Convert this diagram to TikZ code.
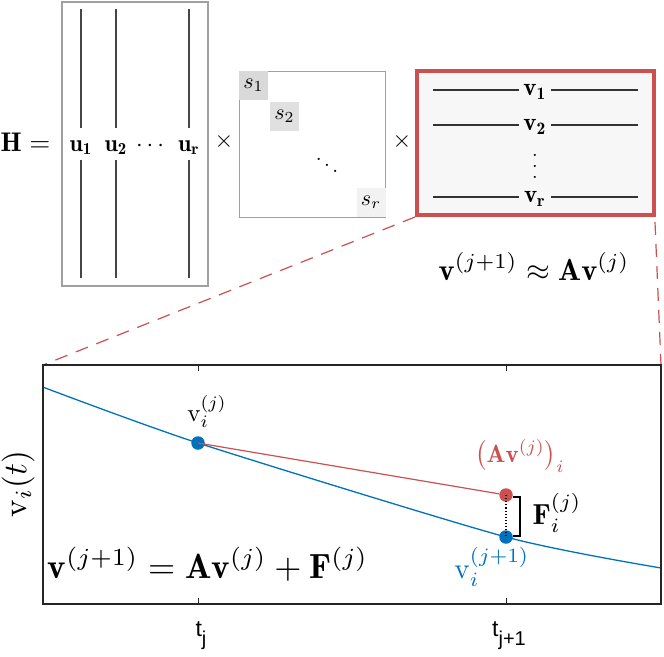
\documentclass[tikz,border=0pt]{standalone}
\usepackage{amsmath}
\usepackage{fontspec}
\newfontfamily\hv{Liberation Sans}
\definecolor{myred}{RGB}{205,80,80}
\definecolor{myblue}{RGB}{0,114,189}
\definecolor{boxgray}{RGB}{160,160,160}
\definecolor{linegray}{RGB}{70,70,70}
\newcommand{\fsz}[1]{\fontsize{#1}{#1}\selectfont}
\newcommand{\mysz}[2]{\scalebox{#1}{#2}}
\newcommand{\myvdots}{\vbox{\baselineskip5.5pt\lineskiplimit0pt\hbox{.}\hbox{.}\hbox{.}}}
\newcommand{\tsub}[1]{{\hv\fsz{23}t\raisebox{-0.4em}{\fsz{20}#1}}}
\begin{document}
\begin{tikzpicture}[x=1pt,y=-1pt,
  colline/.style={linegray,line width=1.4},
  rowline/.style={black!80,line width=1.1},
  lbl/.style={inner sep=0pt},
  sbox/.style={minimum size=29,inner sep=0pt},
  dot/.style={circle,minimum size=13.5,inner sep=0pt},
  cross/.style={inner sep=0pt}]
\useasboundingbox (0,0) rectangle (664,656);
% ---- left matrix
\node[lbl,anchor=base] (H) at (25.5,151) {\mysz{2.7}{$\mathbf{H} =$}};
\node[draw=boxgray,line width=2,minimum width=146,minimum height=284,inner sep=0] (U) at (135,144) {};
\node[lbl,anchor=base] (u1) at (81,151) {\mysz{2.4}{$\mathbf{u_1}$}};
\node[lbl,anchor=base] (u2) at (116,151) {\mysz{2.4}{$\mathbf{u_2}$}};
\node[lbl,anchor=base] (ud) at (152,151) {\mysz{2.4}{$\cdots$}};
\node[lbl,anchor=base] (ur) at (189,151) {\mysz{2.4}{$\mathbf{u_r}$}};
\foreach \x in {81,116,189}{
  \draw[colline] (\x,9) -- (\x,128);
  \draw[colline] (\x,160) -- (\x,278);
}
\node[cross] (x1) at (224,141) {\mysz{2.4}{$\times$}};
% ---- middle matrix
\node[draw=boxgray,line width=1,minimum size=146,inner sep=0] (S) at (312.5,144) {};
\node[sbox,fill=black!15] (s1) at (253.5,85.5) {\mysz{2.2}{$s_1$}};
\node[sbox,fill=black!12] (s2) at (284.5,116) {\mysz{2.2}{$s_2$}};
\node[lbl] (sd) at (327,159) {\mysz{2.1}{$\ddots$}};
\node[sbox,fill=black!5] (sr) at (371,202) {\mysz{2.2}{$s_r$}};
\node[cross] (x2) at (402,141) {\mysz{2.4}{$\times$}};
% ---- right matrix
\node[draw=myred,line width=4,fill=black!3,minimum width=237,minimum height=144,inner sep=0] (V) at (535.5,143) {};
\node[lbl,anchor=base,minimum width=32] (v1) at (535,95.5) {\mysz{2.5}{$\mathbf{v_1}$}};
\node[lbl,anchor=base,minimum width=32] (v2) at (535,130.5) {\mysz{2.5}{$\mathbf{v_2}$}};
\node[lbl] (vd) at (535,166) {\mysz{2.0}{\myvdots}};
\node[lbl,anchor=base,minimum width=32] (vr) at (535,202.5) {\mysz{2.5}{$\mathbf{v_r}$}};
\draw[rowline] (433,90) -- (v1.west|-0,90);
\draw[rowline] (v1.east|-0,90) -- (638,90);
\draw[rowline] (433,125) -- (v2.west|-0,125);
\draw[rowline] (v2.east|-0,125) -- (638,125);
\draw[rowline] (433,197) -- (vr.west|-0,197);
\draw[rowline] (vr.east|-0,197) -- (638,197);
\node[lbl,anchor=base] (eqtop) at (534,280) {\mysz{3.05}{$\mathbf{v}^{(j+1)} \approx \mathbf{A}\mathbf{v}^{(j)}$}};
% ---- plot
\coordinate (PTL) at (43,365);
\coordinate (PTR) at (661,365);
\coordinate (PBR) at (661,604);
\draw[myred,line width=1.2,dash pattern=on 13pt off 9pt] (V.south west) -- (PTL);
\draw[myred,line width=1.2,dash pattern=on 13pt off 9pt] (655,222) -- (PTR);
\begin{scope}
\clip (PTL) rectangle (PBR);
\draw[myblue,line width=1.3] plot[smooth,tension=0.4] coordinates {(40,386) (198,443) (506,537) (664,568.5)};
\end{scope}
\draw[black!85,line width=1.4] (PTL) rectangle (PBR);
\foreach \x in {198,506}{
  \draw[black!85,line width=1] (\x,365) -- (\x,371);
  \draw[black!85,line width=1] (\x,604) -- (\x,598);
}
\node[dot,fill=myblue] (d1) at (198,443) {};
\node[dot,fill=myred] (d2) at (506,495) {};
\node[dot,fill=myblue] (d3) at (506,537) {};
\draw[myred,line width=1.2] (d1.center) -- (d2);
\draw[black,line width=1.1,dotted] (d2.center) -- (d3.center);
\draw[black,line width=1.3] (513,497) -- (520,497) -- (520,536) -- (513,536);
\node[lbl,anchor=base] (lv) at (207,421) {\mysz{2.5}{$\mathrm{v}_i^{(j)}$}};
\node[lbl,anchor=base,text=myred] (lav) at (520,462) {\mysz{2.5}{$\big(\mathbf{A}\mathbf{v}^{(j)}\big)_i$}};
\node[lbl,anchor=base] (lf) at (557,524) {\mysz{2.9}{$\mathbf{F}_i^{(j)}$}};
\node[lbl,anchor=base,text=myblue] (lv2) at (492,578) {\mysz{2.9}{$\mathrm{v}_i^{(j+1)}$}};
\node[lbl,anchor=base] (eqb) at (208,578) {\mysz{3.5}{$\mathbf{v}^{(j+1)} = \mathbf{A}\mathbf{v}^{(j)} + \mathbf{F}^{(j)}$}};
\node[lbl,rotate=90] (ylab) at (18,484) {\mysz{3.3}{$\mathrm{v}_i(t)$}};
\node[lbl,anchor=base] (t1) at (201,636) {\tsub{j}};
\node[lbl,anchor=base] (t2) at (509,636) {\tsub{j+1}};
\end{tikzpicture}
\end{document}
